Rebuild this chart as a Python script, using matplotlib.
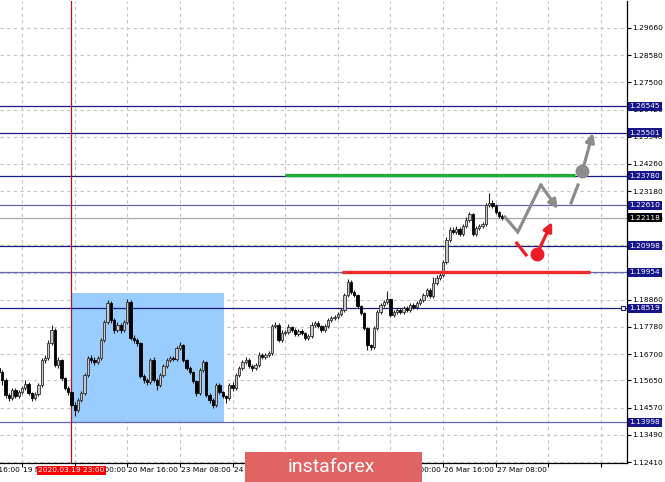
import numpy as np
import matplotlib
matplotlib.use("Agg")
import matplotlib.pyplot as plt
from matplotlib.patches import Rectangle, FancyArrowPatch

# hourly candles, 19 Mar 01:00 .. 27 Mar 10:00 (bar index 0..153)
open0 = 1.1616
closes = [1.1600, 1.1568, 1.1509, 1.1497, 1.1529, 1.1505, 1.1521, 1.1537, 1.1552, 1.1517,
          1.1497, 1.1513, 1.1549, 1.1648, 1.1656, 1.1715, 1.1767, 1.1628, 1.1648, 1.1576,
          1.1537, 1.1521, 1.1469, 1.1449, 1.1489, 1.1517, 1.1588, 1.1656, 1.1648, 1.1640,
          1.1656, 1.1727, 1.1799, 1.1874, 1.1807, 1.1767, 1.1787, 1.1767, 1.1799, 1.1878,
          1.1735, 1.1727, 1.1715, 1.1584, 1.1568, 1.1560, 1.1648, 1.1568, 1.1549, 1.1588,
          1.1624, 1.1648, 1.1656, 1.1652, 1.1695, 1.1707, 1.1648, 1.1616, 1.1600, 1.1564,
          1.1517, 1.1608, 1.1640, 1.1509, 1.1489, 1.1469, 1.1549, 1.1521, 1.1505, 1.1497,
          1.1549, 1.1537, 1.1588, 1.1616, 1.1640, 1.1648, 1.1624, 1.1616, 1.1628, 1.1668,
          1.1660, 1.1668, 1.1675, 1.1783, 1.1787, 1.1727, 1.1755, 1.1759, 1.1779, 1.1767,
          1.1751, 1.1763, 1.1755, 1.1735, 1.1743, 1.1787, 1.1795, 1.1783, 1.1767, 1.1783,
          1.1807, 1.1814, 1.1818, 1.1830, 1.1846, 1.1906, 1.1957, 1.1918, 1.1906, 1.1862,
          1.1834, 1.1775, 1.1707, 1.1699, 1.1775, 1.1838, 1.1866, 1.1878, 1.1890, 1.1826,
          1.1838, 1.1846, 1.1838, 1.1854, 1.1846, 1.1866, 1.1858, 1.1874, 1.1886, 1.1906,
          1.1926, 1.1902, 1.1953, 1.1973, 1.1985, 1.2037, 1.2124, 1.2164, 1.2156, 1.2168,
          1.2148, 1.2180, 1.2204, 1.2227, 1.2148, 1.2172, 1.2180, 1.2188, 1.2263, 1.2271,
          1.2259, 1.2235, 1.2219, 1.22118]
highs = [1.1630, 1.1608, 1.1576, 1.1517, 1.1537, 1.1537, 1.1529, 1.1545, 1.1568, 1.1560,
         1.1521, 1.1521, 1.1556, 1.1656, 1.1668, 1.1727, 1.1787, 1.1775, 1.1660, 1.1652,
         1.1580, 1.1545, 1.1525, 1.1481, 1.1497, 1.1525, 1.1596, 1.1664, 1.1668, 1.1660,
         1.1664, 1.1735, 1.1807, 1.1886, 1.1882, 1.1814, 1.1799, 1.1795, 1.1807, 1.1890,
         1.1886, 1.1747, 1.1735, 1.1719, 1.1592, 1.1576, 1.1656, 1.1660, 1.1576, 1.1596,
         1.1632, 1.1656, 1.1664, 1.1664, 1.1703, 1.1719, 1.1711, 1.1652, 1.1624, 1.1604,
         1.1568, 1.1616, 1.1648, 1.1644, 1.1517, 1.1497, 1.1556, 1.1556, 1.1525, 1.1509,
         1.1556, 1.1560, 1.1596, 1.1624, 1.1648, 1.1660, 1.1656, 1.1632, 1.1636, 1.1679,
         1.1675, 1.1675, 1.1683, 1.1791, 1.1799, 1.1795, 1.1767, 1.1767, 1.1791, 1.1783,
         1.1775, 1.1771, 1.1771, 1.1759, 1.1751, 1.1799, 1.1803, 1.1803, 1.1787, 1.1791,
         1.1814, 1.1822, 1.1826, 1.1838, 1.1854, 1.1914, 1.1969, 1.1965, 1.1926, 1.1910,
         1.1866, 1.1838, 1.1779, 1.1711, 1.1783, 1.1846, 1.1874, 1.1886, 1.1922, 1.1894,
         1.1846, 1.1854, 1.1854, 1.1862, 1.1862, 1.1874, 1.1874, 1.1882, 1.1894, 1.1914,
         1.1934, 1.1934, 1.1977, 1.1985, 1.1993, 1.2045, 1.2136, 1.2176, 1.2176, 1.2180,
         1.2176, 1.2188, 1.2215, 1.2235, 1.2231, 1.2180, 1.2188, 1.2196, 1.2271, 1.2311,
         1.2283, 1.2267, 1.2239, 1.2227]
lows = [1.1580, 1.1549, 1.1497, 1.1485, 1.1489, 1.1497, 1.1497, 1.1513, 1.1529, 1.1509,
        1.1485, 1.1489, 1.1505, 1.1541, 1.1636, 1.1648, 1.1707, 1.1620, 1.1616, 1.1568,
        1.1529, 1.1509, 1.1461, 1.1422, 1.1441, 1.1481, 1.1509, 1.1580, 1.1636, 1.1628,
        1.1632, 1.1648, 1.1719, 1.1791, 1.1795, 1.1755, 1.1759, 1.1755, 1.1759, 1.1791,
        1.1727, 1.1715, 1.1703, 1.1576, 1.1556, 1.1549, 1.1552, 1.1560, 1.1529, 1.1541,
        1.1580, 1.1616, 1.1640, 1.1644, 1.1644, 1.1687, 1.1640, 1.1608, 1.1592, 1.1556,
        1.1505, 1.1509, 1.1600, 1.1501, 1.1477, 1.1456, 1.1461, 1.1513, 1.1497, 1.1477,
        1.1489, 1.1525, 1.1529, 1.1580, 1.1608, 1.1632, 1.1616, 1.1604, 1.1608, 1.1620,
        1.1652, 1.1652, 1.1660, 1.1668, 1.1775, 1.1719, 1.1719, 1.1747, 1.1751, 1.1759,
        1.1743, 1.1743, 1.1747, 1.1727, 1.1727, 1.1735, 1.1779, 1.1775, 1.1759, 1.1759,
        1.1775, 1.1799, 1.1807, 1.1810, 1.1822, 1.1838, 1.1898, 1.1910, 1.1898, 1.1854,
        1.1826, 1.1767, 1.1688, 1.1687, 1.1691, 1.1767, 1.1830, 1.1858, 1.1870, 1.1818,
        1.1818, 1.1830, 1.1830, 1.1830, 1.1838, 1.1838, 1.1850, 1.1850, 1.1866, 1.1878,
        1.1898, 1.1894, 1.1894, 1.1945, 1.1965, 1.1977, 1.2029, 1.2116, 1.2148, 1.2148,
        1.2140, 1.2140, 1.2172, 1.2196, 1.2140, 1.2140, 1.2164, 1.2172, 1.2180, 1.2255,
        1.2251, 1.2227, 1.2211, 1.2204]

tickBars = [-9, 7, 23, 39, 55, 71, 87, 103, 119, 135, 151, 167, 183]
tickLabels = ["18 Mar 16:00", "19 Mar 08:00", "20 Mar 00:00", "20 Mar 16:00", "23 Mar 08:00",
              "24 Mar 00:00", "24 Mar 16:00", "25 Mar 08:00", "26 Mar 00:00", "26 Mar 16:00",
              "27 Mar 08:00", "", ""]
yTicks = [1.12410, 1.13490, 1.14570, 1.15650, 1.16700, 1.17780, 1.18860, 1.19940, 1.21020,
          1.22100, 1.23180, 1.24260, 1.25340, 1.26420, 1.27500, 1.28580, 1.29660]

levelsDark = [1.26545, 1.25501, 1.23780, 1.20998, 1.18519]
levelsLight = [1.22610, 1.19954, 1.13998]
lastPrice = 1.22118
crossBar = 22
crossLabel = "2020.03.19 23:00"

# box of the 19-23 Mar range
boxBars = [21.9, 68.4]
boxPrices = [1.1400, 1.1913]
# green / red target lines
greenLine = [86.9, 175.1, 1.2383]
redLine = [104.3, 179.6, 1.1997]
# forecast paths
grayPathX = [153.8, 157.7, 164.7, 169.9]
grayPathY = [1.2215, 1.2155, 1.2342, 1.2247]
graySegX = [173.9, 176.0]
graySegY = [1.2271, 1.2342]
grayDot = [177.2, 1.2398]
grayArrow = [177.6, 1.2410, 180.5, 1.2549]
redSegX = [157.4, 160.2]
redSegY = [1.2111, 1.2064]
redDot = [163.5, 1.2068]
redArrow = [164.4, 1.2092, 168.1, 1.2195]

plt.rcParams['font.family'] = ['DejaVu Sans']
fig = plt.figure(figsize=(6.65, 4.82), dpi=100)
ax = fig.add_axes([0.0, 1 - 463.0/482, 627.0/665, 462.0/482])

ax.set_xlim(0.304, 190.9)
ax.set_ylim(1.12371, 1.30733)

# grid
ax.set_xticks([b for b in tickBars if b > 0])
ax.set_xticklabels([])
ax.set_yticks(yTicks)
ax.set_yticklabels(["%.5f" % v for v in yTicks])
ax.grid(True, color='#c4c4c4', linestyle=(0, (3, 3)), linewidth=0.8, zorder=0)
ax.set_axisbelow(True)
ax.yaxis.tick_right()
ax.tick_params(axis='y', direction='out', length=3, width=0.8, pad=1, labelsize=5.4)
ax.tick_params(axis='x', direction='out', length=3, width=0.8)
ax.spines['left'].set_visible(False)
ax.spines['top'].set_visible(False)
for s in ['right', 'bottom']:
	ax.spines[s].set_linewidth(0.9)

for i, b in enumerate(tickBars):
	if tickLabels[i]:
		ax.text(b + 0.3, -0.009, tickLabels[i], transform=ax.get_xaxis_transform(), ha='left', va='top',
			fontsize=5.4, clip_on=False)

# range box
ax.add_patch(Rectangle((boxBars[0], boxPrices[0]), boxBars[1]-boxBars[0], boxPrices[1]-boxPrices[0],
	facecolor='#99ccff', edgecolor='none', zorder=1))

# levels
for lv in levelsDark:
	ax.axhline(lv, color='#1c1c80', linewidth=0.9, zorder=2)
for lv in levelsLight:
	ax.axhline(lv, color='#6464b4', linewidth=0.9, zorder=2)
ax.axhline(lastPrice, color='#a8a8a8', linewidth=0.9, zorder=2)
ax.plot([189.8], [levelsDark[4]], marker='s', markersize=3, mfc='white', mec='#1c1c80', mew=0.8,
	clip_on=False, zorder=3)

ax.axvline(crossBar, color='#b01818', linewidth=0.9, zorder=2)

# candles
opens = [open0] + closes[:-1]
idx = np.arange(len(closes))
o = np.array(opens)
c = np.array(closes)
ax.vlines(idx, lows, highs, color='#202020', linewidth=0.8, zorder=3)
up = c >= o
bodyLow = np.minimum(o, c)
bodyH = np.maximum(np.abs(c - o), 0.00015)
ax.bar(idx[up], bodyH[up], bottom=bodyLow[up], width=0.7, color='#c8c8c8', edgecolor='#303030',
	linewidth=0.6, zorder=4)
ax.bar(idx[~up], bodyH[~up], bottom=bodyLow[~up], width=0.7, color='black', edgecolor='black',
	linewidth=0.6, zorder=4)

# target lines
ax.plot(greenLine[:2], [greenLine[2]]*2, color='#22aa33', linewidth=2.4, zorder=5, solid_capstyle='butt')
ax.plot(redLine[:2], [redLine[2]]*2, color='#ee2a2a', linewidth=2.4, zorder=5, solid_capstyle='butt')

# forecast arrows
gray = '#8c8c8c'
ax.plot(grayPathX[:-1], grayPathY[:-1], color=gray, linewidth=2.3, zorder=6, solid_joinstyle='miter')
ax.add_patch(FancyArrowPatch((grayPathX[-2], grayPathY[-2]), (grayPathX[-1], grayPathY[-1]),
	arrowstyle='-|>', mutation_scale=13, color=gray, linewidth=2.3, zorder=6, shrinkA=0, shrinkB=0))
ax.plot(graySegX, graySegY, color=gray, linewidth=2.3, zorder=6)
ax.plot([grayDot[0]], [grayDot[1]], 'o', color=gray, markersize=9, zorder=6)
ax.add_patch(FancyArrowPatch((grayArrow[0], grayArrow[1]), (grayArrow[2], grayArrow[3]),
	arrowstyle='-|>', mutation_scale=13, color=gray, linewidth=2.3, zorder=6, shrinkA=0, shrinkB=0))
red = '#ee1c24'
ax.plot(redSegX, redSegY, color=red, linewidth=2.3, zorder=6)
ax.plot([redDot[0]], [redDot[1]], 'o', color=red, markersize=9, zorder=6)
ax.add_patch(FancyArrowPatch((redArrow[0], redArrow[1]), (redArrow[2], redArrow[3]),
	arrowstyle='-|>', mutation_scale=13, color=red, linewidth=2.3, zorder=6, shrinkA=0, shrinkB=0))

# price labels on the right
for lv in levelsDark + levelsLight:
	ax.text(1.004, lv, "%.5f" % lv, transform=ax.get_yaxis_transform(), ha='left', va='center',
		fontsize=5.4, color='white', clip_on=False, zorder=10,
		bbox=dict(boxstyle='square,pad=0.2', fc='#16168a', ec='none'))
ax.text(1.004, lastPrice, "%.5f" % lastPrice, transform=ax.get_yaxis_transform(), ha='left',
	va='center', fontsize=5.4, color='white', clip_on=False, zorder=10,
	bbox=dict(boxstyle='square,pad=0.2', fc='black', ec='none'))

# crosshair time label
ax.text(crossBar, -0.009, crossLabel, transform=ax.get_xaxis_transform(), ha='center', va='top',
	fontsize=5.4, color='white', clip_on=False, zorder=10,
	bbox=dict(boxstyle='square,pad=0.2', fc='#ff0000', ec='none'))

# watermark
fig.add_artist(Rectangle((245.0/665, 0.0), 177.0/665, 30.0/482, transform=fig.transFigure,
	facecolor='#e06464', edgecolor='none', zorder=20))
fig.text(331.0/665, 1 - 467.0/482, "instaforex", color='white', fontsize=14, family='Roboto',
	ha='center', va='center', zorder=21)

plt.savefig('out.png', dpi=100)
